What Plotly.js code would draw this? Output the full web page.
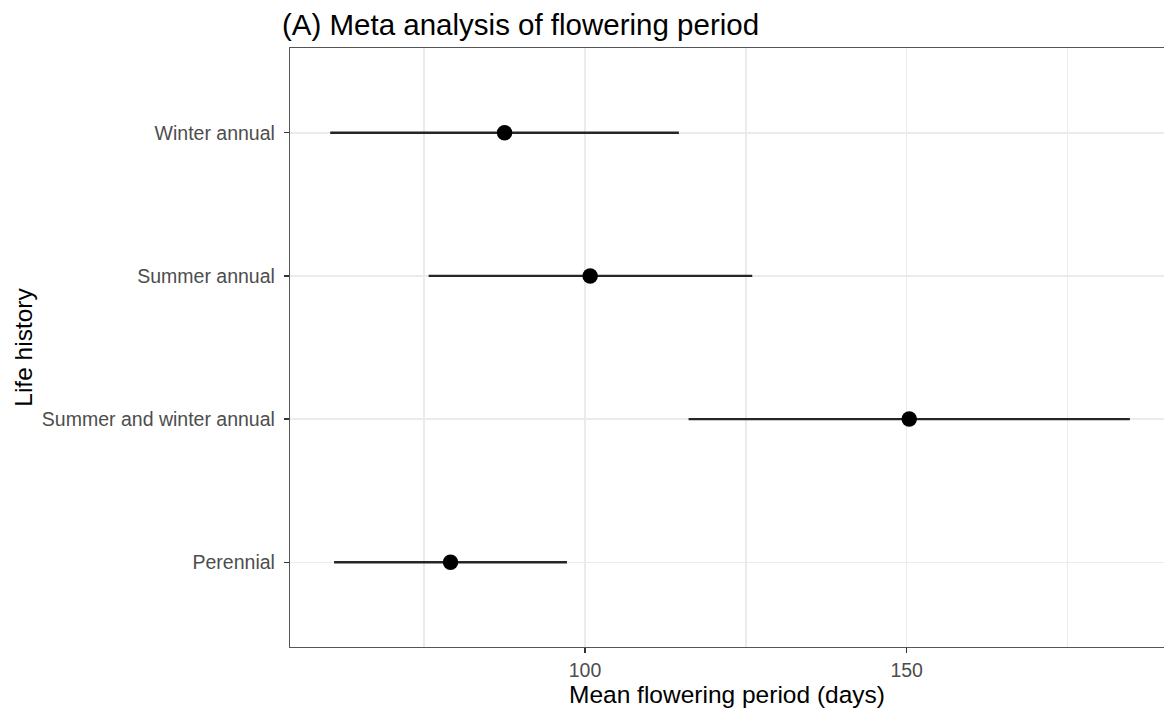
<!DOCTYPE html>
<html>
<head>
<meta charset="utf-8">
<script src="https://cdn.plot.ly/plotly-3.0.1.min.js"></script>
<style>html,body{margin:0;padding:0;background:#fff;}#chart{width:1164px;height:711px;}</style>
</head>
<body>
<div id="chart"></div>
<script>
const categories = ["Perennial", "Summer and winter annual", "Summer annual", "Winter annual"];
const meanDays = [79.1, 150.4, 100.8, 87.5];
const lowerDays = [61.0, 116.1, 75.7, 60.4];
const upperDays = [97.2, 184.7, 126.0, 114.6];
const xTickVals = [100, 150];
const xMinorVals = [75, 125, 175];

const plus = upperDays.map((u, i) => u - meanDays[i]);
const minus = meanDays.map((m, i) => m - lowerDays[i]);

const trace = {
  type: "scatter",
  mode: "markers",
  x: meanDays,
  y: categories,
  marker: {color: "#000000", size: 15.5},
  error_x: {
    type: "data", symmetric: false,
    array: plus, arrayminus: minus,
    width: 0, thickness: 2.4, color: "#262626"
  },
  hoverinfo: "x+y",
  showlegend: false
};

const fontFam = "Liberation Sans, Arial, Helvetica, sans-serif";
const layout = {
  width: 1164, height: 711,
  margin: {l: 290, r: 0, t: 48, b: 64, pad: 0},
  paper_bgcolor: "#ffffff", plot_bgcolor: "#ffffff",
  font: {family: fontFam, color: "#000000"},
  title: {
    text: "(A) Meta analysis of flowering period",
    font: {family: fontFam, size: 29.5, color: "#000000"},
    xref: "container", x: 282 / 1164, xanchor: "left",
    yref: "container", y: 1 - 14 / 711, yanchor: "top"
  },
  xaxis: {
    range: [54.15, 190],
    tickvals: xTickVals, ticktext: xTickVals.map(String),
    ticks: "outside", ticklen: 5, tickwidth: 1.2, tickcolor: "#333333",
    tickfont: {family: fontFam, size: 19.5, color: "#4d4d4d"},
    showgrid: true, gridcolor: "#ebebeb", gridwidth: 1.5,
    minor: {tickvals: xMinorVals, showgrid: true, gridcolor: "#ebebeb", gridwidth: 1.5, ticks: ""},
    showline: true, linecolor: "#555555", linewidth: 1.2, mirror: true,
    zeroline: false,
    title: {text: "Mean flowering period (days)", font: {family: fontFam, size: 24.5, color: "#000000"}, standoff: 3}
  },
  yaxis: {
    type: "category",
    categoryorder: "array", categoryarray: categories,
    range: [-0.592, 3.592],
    ticks: "outside", ticklen: 5, tickwidth: 1.2, tickcolor: "#333333",
    tickfont: {family: fontFam, size: 19.5, color: "#4d4d4d"},
    ticklabelstandoff: 5,
    showgrid: true, gridcolor: "#ebebeb", gridwidth: 1.5,
    showline: true, linecolor: "#555555", linewidth: 1.2, mirror: true,
    zeroline: false,
    title: {text: "Life history", font: {family: fontFam, size: 24.5, color: "#000000"}, standoff: 2}
  }
};

Plotly.newPlot("chart", [trace], layout, {displayModeBar: false, staticPlot: true});
</script>
</body>
</html>
